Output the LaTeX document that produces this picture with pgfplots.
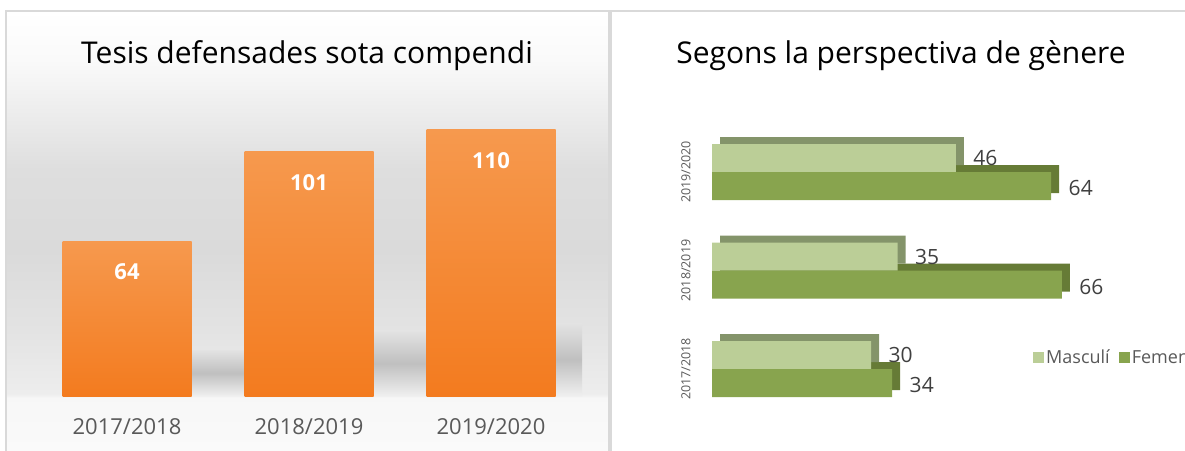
\documentclass[border=0pt]{standalone}
\usepackage{fontspec}
\setmainfont{Open Sans}
\usepackage{pgfplots}
\pgfplotsset{compat=1.18}

\definecolor{barTop}{HTML}{F6994E}
\definecolor{barBot}{HTML}{F37B1F}
\definecolor{tick}{HTML}{595959}
\definecolor{lbl}{HTML}{404040}
\definecolor{masc}{HTML}{BBCE97}
\definecolor{mascBack}{HTML}{84946A}
\definecolor{fem}{HTML}{88A44E}
\definecolor{femBack}{HTML}{667B36}
\definecolor{frame}{HTML}{D9D9D9}

% background of the left panel: white top, grey wall, light floor
\pgfdeclareverticalshading{panelbg}{100bp}{%
  color(0bp)=(white!98!black); color(25bp)=(white!98!black);
  color(30.9bp)=(white!97!black); color(31.4bp)=(white!93!black);
  color(38.7bp)=(white!89!black); color(47.8bp)=(white!85.5!black);
  color(56.9bp)=(white!87!black); color(63.7bp)=(white!93!black);
  color(69.4bp)=(white!98!black); color(75bp)=(white); color(100bp)=(white)}

\begin{document}
\begin{tikzpicture}[x=1pt,y=1pt]
\useasboundingbox (0,0) rectangle (1185,450);
\clip (0,0) rectangle (1185,450);

\shade[shading=panelbg] (6,0) rectangle (609,439);
\draw[frame, line width=1.5pt] (6,-5) -- (6,439) -- (609,439) -- (609,-5);
\draw[frame, line width=1.5pt] (611,-5) -- (611,439) -- (1190,439);

\node[font=\fontsize{30}{36}\selectfont, anchor=base] at (307,386) {Tesis defensades sota compendi};
\node[font=\fontsize{30}{36}\selectfont, anchor=base] at (901,386) {Segons la perspectiva de gènere};

% left: total theses
\begin{axis}[
    at={(36pt,54pt)}, anchor=south west,
    scale only axis, width=546pt, height=290.4pt,
    xmin=-0.5, xmax=2.5, ymin=0, ymax=120,
    axis line style={draw=none}, major tick length=0pt,
    ytick=\empty, xtick={0,1,2},
    xticklabels={2017/2018,2018/2019,2019/2020},
    xticklabel style={font=\fontsize{22}{26}\selectfont, text=tick, yshift=-19pt},
    /pgf/number format/assume math mode=true,
    shadow/.style={ybar, bar width=53pt, bar shift=91pt, draw=none,
        top color=black!11, bottom color=black!6, middle color=black!25, forget plot},
    total/.style={ybar, bar width=129pt, bar shift=0pt, draw=none,
        top color=barTop, bottom color=barBot, nodes near coords,
        every node near coord/.append style={font=\bfseries\fontsize{22}{26}\selectfont,
            text=white, anchor=center, yshift=-31pt}},
]
% soft shadows behind the bars
\addplot[shadow] coordinates {(0,19)};
\addplot[shadow] coordinates {(1,27)};
\addplot[shadow, bar width=28pt, bar shift=78.5pt] coordinates {(2,30)};
% one plot per bar so each bar gets its own gradient
\addplot[total] coordinates {(0,64)};
\addplot[total] coordinates {(1,101)};
\addplot[total] coordinates {(2,110)};
\end{axis}

% right: by gender
\begin{axis}[
    at={(712pt,31.75pt)}, anchor=south west,
    scale only axis, width=424pt, height=295.5pt,
    xmin=0, xmax=80, ymin=-0.5, ymax=2.5,
    axis line style={draw=none}, major tick length=0pt,
    xtick=\empty, ytick={0,1,2},
    yticklabels={2017/2018,2018/2019,2019/2020},
    yticklabel style={font=\fontsize{12.5}{15}\selectfont, text=tick,
        xshift=-18pt, rotate=90, anchor=south},
    bar width=28pt,
    /pgf/number format/assume math mode=true,
    every node near coord/.append style={font=\fontsize{21}{25}\selectfont,
        text=lbl, anchor=west, xshift=14pt},
    legend style={at={(0.75,0.207)}, anchor=west, draw=none, fill=none,
        legend columns=2, font=\fontsize{18}{21}\selectfont, text=tick,
        /tikz/every even column/.append style={column sep=7pt}},
    legend image code/.code={\fill[#1] (0pt,-5.5pt) rectangle (11pt,5.5pt);},
]
\addplot[xbar, bar shift=-14pt, draw=none, fill=femBack, xshift=8pt, yshift=7pt, forget plot]
    coordinates {(34,0) (66,1) (64,2)};
\addplot[xbar, bar shift=14pt, draw=none, fill=mascBack, xshift=8pt, yshift=7pt, forget plot]
    coordinates {(30,0) (35,1) (46,2)};
\addplot[xbar, bar shift=14pt, draw=none, fill=masc, nodes near coords,
    every node near coord/.append style={yshift=14pt}]
    coordinates {(30,0) (35,1) (46,2)};
\addlegendentry{Masculí}
\addplot[xbar, bar shift=-14pt, draw=none, fill=fem, nodes near coords,
    every node near coord/.append style={yshift=-16pt}]
    coordinates {(34,0) (66,1) (64,2)};
\addlegendentry{Femení}
\end{axis}
\end{tikzpicture}
\end{document}
